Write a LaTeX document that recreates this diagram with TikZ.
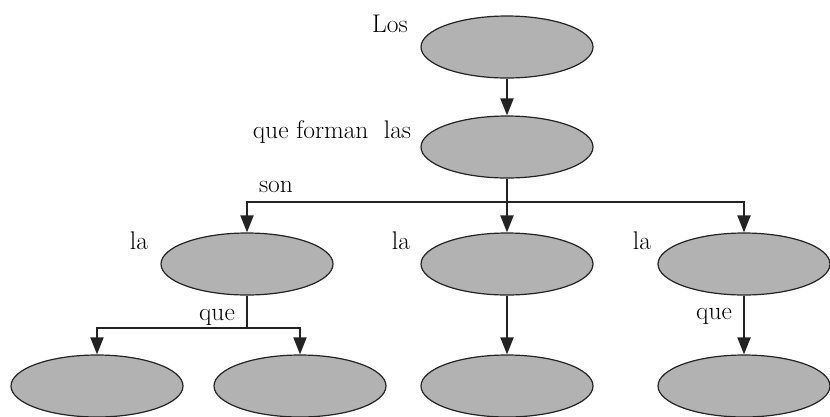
\documentclass[tikz,border=0pt]{standalone}
\usetikzlibrary{shapes.geometric,arrows.meta}
\definecolor{ellfill}{RGB}{178,178,178}
\definecolor{ink}{RGB}{35,35,35}
\begin{document}
\begin{tikzpicture}[x=1pt,y=-1pt,
  oval/.style={ellipse,draw=ink,line width=1.2pt,fill=ellfill,minimum width=172pt,minimum height=62pt,inner sep=0pt},
  arr/.style={draw=ink,line width=2pt,-{Triangle[width=13pt,length=17pt]}},
  lab/.style={anchor=base,inner sep=0pt,font=\fontsize{25.5}{29}\selectfont,text=black}]
\useasboundingbox (0,0) rectangle (830,416);
\node[oval] (e1) at (507,47) {};
\node[oval] (e2) at (507,147) {};
\node[oval] (e3) at (247,264) {};
\node[oval] (e4) at (507,264) {};
\node[oval] (e5) at (744,264) {};
\node[oval] (e6) at (97,386) {};
\node[oval] (e7) at (300,386) {};
\node[oval] (e8) at (507,386) {};
\node[oval] (e9) at (744,386) {};
\coordinate (j) at (507,202);
\coordinate (k) at (247,328);
\draw[arr] (e1.south) -- (e2.north);
\draw[arr] (e2.south) -- (e4.north);
\draw[arr] (j) -| (e3.north);
\draw[arr] (j) -| (e5.north);
\draw[draw=ink,line width=2pt] (e3.south) -- (k);
\draw[arr] (k) -| (e6.north);
\draw[arr] (k) -| (e7.north);
\draw[arr] (e4.south) -- (e8.north);
\draw[arr] (e5.south) -- (e9.north);
\node[lab] (t1) at (390,32) {Los};
\node[lab] (t2) at (332,138) {que forman\ \ las};
\node[lab] (t3) at (276,192) {son};
\node[lab] (t4) at (139,249) {la};
\node[lab] (t5) at (401,249) {la};
\node[lab] (t6) at (642,249) {la};
\node[lab] (t7) at (217,320) {que};
\node[lab] (t8) at (714,319) {que};
\end{tikzpicture}
\end{document}
